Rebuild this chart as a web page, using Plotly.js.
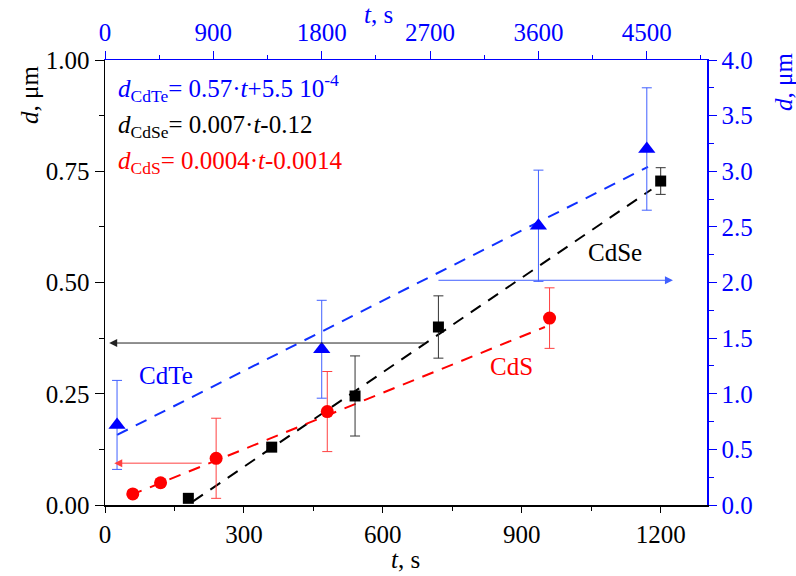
<!DOCTYPE html>
<html><head><meta charset="utf-8">
<script src="https://cdn.plot.ly/plotly-3.0.1.min.js"></script>
<style>html,body{margin:0;padding:0;background:#fff}#chart{width:796px;height:576px}</style>
</head><body><div id="chart"></div>
<script>
// CdSe (bottom t axis, left d axis)
const cdseT = [180, 360, 540, 720, 1200];
const cdseD = [0.015, 0.13, 0.245, 0.40, 0.728];
const cdseErr = [0.005, 0.006, 0.09, 0.07, 0.03];
// CdS (bottom t axis, left d axis)
const cdsT = [60, 120, 240, 480, 960];
const cdsD = [0.025, 0.05, 0.105, 0.21, 0.42];
const cdsErr = [0.008, 0.008, 0.09, 0.09, 0.068];
// CdTe (top t axis, right d axis)
const cdteT = [100, 1800, 3600, 4500];
const cdteD = [0.72, 1.40, 2.51, 3.20];
const cdteErr = [0.40, 0.44, 0.50, 0.55];
// fit lines (end points)
const fitCdseT = [190, 1180];
const fitCdseD = [0.008, 0.709];
const fitCdsT = [55, 950];
const fitCdsD = [0.022, 0.40];
const fitCdteT = [100, 4510];
const fitCdteD = [0.63, 3.04];
// arrows [tailT, headT, d]
const arrowCdse = [694, 9, 0.364];
const arrowCds = [212, 20, 0.094];
const arrowCdte = [2757, 4717, 2.02];

const FONT = 'Liberation Serif';
const BLUE = '#0000ff';
const fs = 25;

const L = 105, R = 707, T = 60, B = 505;
const px = x => (x - L) / (R - L);
const py = y => (B - y) / (B - T);

const traces = [
  {x: fitCdteT, y: fitCdteD, xaxis: 'x2', yaxis: 'y2', mode: 'lines',
   line: {color: '#1030ff', width: 2, dash: '12px,9px'}, hoverinfo: 'skip'},
  {x: fitCdseT, y: fitCdseD, mode: 'lines',
   line: {color: '#000000', width: 2, dash: '12px,9px'}, hoverinfo: 'skip'},
  {x: fitCdsT, y: fitCdsD, mode: 'lines',
   line: {color: '#ff0000', width: 2, dash: '12px,9px'}, hoverinfo: 'skip'},
  {x: cdseT, y: cdseD, mode: 'markers', marker: {symbol: 'square', size: 11, color: '#000'},
   error_y: {type: 'data', array: cdseErr, color: '#333', thickness: 1, width: 5}},
  {x: cdsT, y: cdsD, mode: 'markers', marker: {symbol: 'circle', size: 13, color: '#ff0000'},
   error_y: {type: 'data', array: cdsErr, color: '#ff4040', thickness: 1, width: 5}},
  {x: cdteT, y: cdteD, xaxis: 'x2', yaxis: 'y2', mode: 'markers',
   marker: {symbol: 'triangle-up', size: 15, color: BLUE},
   error_y: {type: 'data', array: cdteErr, color: '#4060ff', thickness: 1, width: 5}}
];

const tickf = {family: FONT, size: fs, color: '#000'};
const tickfB = {family: FONT, size: fs, color: BLUE};

function note(x, y, text, color, size, extra) {
  return Object.assign({xref: 'paper', yref: 'paper', x: px(x), y: py(y), text: text, showarrow: false,
    xanchor: 'center', yanchor: 'middle', font: {family: FONT, size: size, color: color}}, extra || {});
}

const layout = {
  width: 796, height: 576,
  font: {family: FONT, size: fs, color: '#000'},
  margin: {l: L, r: 796 - R, t: T, b: 576 - B},
  paper_bgcolor: '#fff', plot_bgcolor: '#fff',
  showlegend: false,
  xaxis: {range: [0, 1300], tickvals: [0, 300, 600, 900, 1200], ticks: 'outside', ticklen: 6,
    tickcolor: '#000', linecolor: '#000', linewidth: 1.5, showline: true, showgrid: false, zeroline: false,
    tickfont: tickf, minor: {tickvals: [150, 450, 750, 1050], ticks: 'outside', ticklen: 4, tickcolor: '#000'}},
  yaxis: {range: [0, 1.0], tickvals: [0, 0.25, 0.5, 0.75, 1.0], tickformat: '.2f', ticks: 'outside', ticklen: 9,
    tickcolor: '#000', linecolor: '#000', linewidth: 1.5, showline: true, showgrid: false, zeroline: false,
    tickfont: tickf, minor: {tickvals: [0.125, 0.375, 0.625, 0.875], ticks: 'outside', ticklen: 5, tickcolor: '#000'}},
  xaxis2: {range: [0, 5000], overlaying: 'x', side: 'top', anchor: 'y2',
    tickvals: [0, 900, 1800, 2700, 3600, 4500], ticks: 'outside', ticklen: 8,
    tickcolor: BLUE, linecolor: BLUE, linewidth: 1.5, showline: true, showgrid: false, zeroline: false,
    tickfont: tickfB, minor: {tickvals: [450, 1350, 2250, 3150, 4050, 4950], ticks: 'outside', ticklen: 4, tickcolor: BLUE}},
  yaxis2: {range: [0, 4.0], overlaying: 'y', side: 'right', anchor: 'x2',
    tickvals: [0, 0.5, 1, 1.5, 2, 2.5, 3, 3.5, 4], tickformat: '.1f', ticks: 'outside', ticklen: 8,
    tickcolor: BLUE, linecolor: BLUE, linewidth: 1.5, showline: true, showgrid: false, zeroline: false,
    tickfont: tickfB, minor: {tickvals: [0.25, 0.75, 1.25, 1.75, 2.25, 2.75, 3.25, 3.75], ticks: 'outside', ticklen: 5, tickcolor: BLUE}},
  annotations: [
    // axis titles
    note(30, 95, '<i>d</i>, μm', '#000', fs, {textangle: -90}),
    note(784, 82, '<i>d</i>, μm', BLUE, fs, {textangle: -90}),
    note(405, 559, '<i>t</i>, s', '#000', fs),
    note(378, 15, '<i>t</i>, s', BLUE, fs),
    // equations
    note(116, 88, '<i>d</i><sub>CdTe</sub>= 0.57·<i>t</i>+5.5 10<sup>-4</sup>', BLUE, fs, {xanchor: 'left'}),
    note(116, 126, '<i>d</i><sub>CdSe</sub>= 0.007·<i>t</i>-0.12', '#000', fs, {xanchor: 'left'}),
    note(116, 162, '<i>d</i><sub>CdS</sub>= 0.0004·<i>t</i>-0.0014', '#ff0000', fs, {xanchor: 'left'}),
    // series labels
    note(166, 375, 'CdTe', BLUE, 25),
    note(615, 252, 'CdSe', '#000', 25),
    note(511, 366, 'CdS', '#ff0000', 25),
    // arrows
    {xref: 'x', yref: 'y', axref: 'x', ayref: 'y', x: arrowCdse[1], y: arrowCdse[2], ax: arrowCdse[0], ay: arrowCdse[2],
     text: '', showarrow: true, arrowhead: 2, arrowsize: 1.6, arrowwidth: 1, arrowcolor: '#222'},
    {xref: 'x', yref: 'y', axref: 'x', ayref: 'y', x: arrowCds[1], y: arrowCds[2], ax: arrowCds[0], ay: arrowCds[2],
     text: '', showarrow: true, arrowhead: 2, arrowsize: 1.6, arrowwidth: 1, arrowcolor: '#ff4040'},
    {xref: 'x2', yref: 'y2', axref: 'x2', ayref: 'y2', x: arrowCdte[1], y: arrowCdte[2], ax: arrowCdte[0], ay: arrowCdte[2],
     text: '', showarrow: true, arrowhead: 2, arrowsize: 1.6, arrowwidth: 1, arrowcolor: '#4060ff'}
  ]
};

Plotly.newPlot('chart', traces, layout, {displayModeBar: false, staticPlot: true});
</script>
</body></html>
